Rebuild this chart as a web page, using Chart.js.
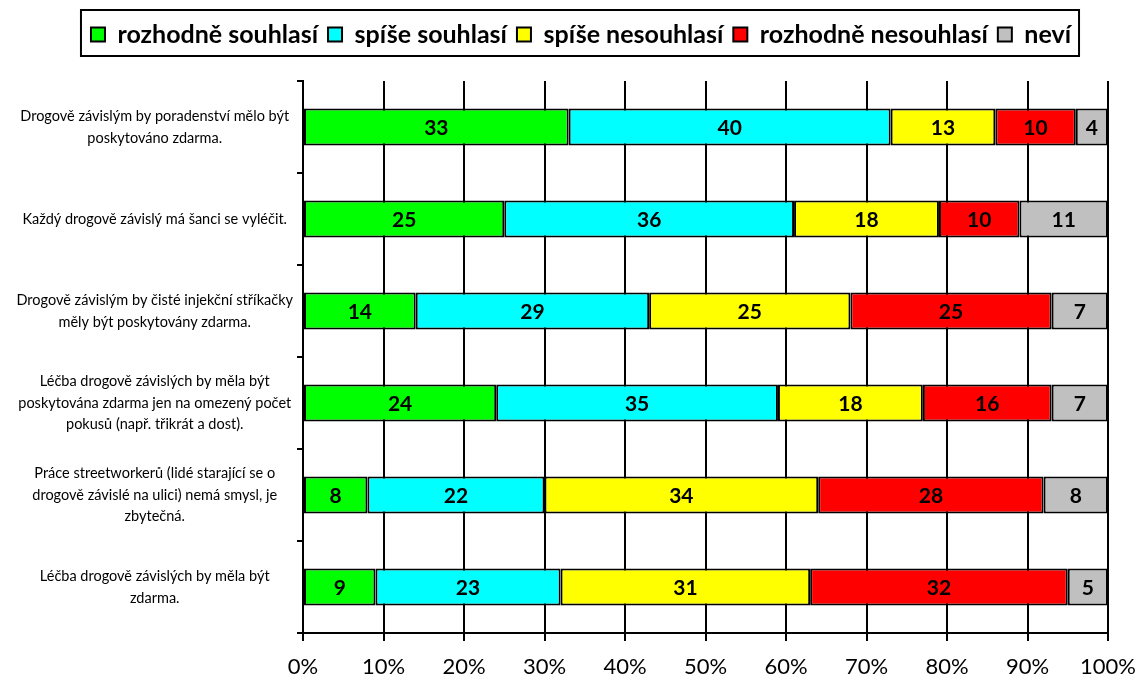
<!DOCTYPE html>
<html>
<head>
<meta charset="utf-8">
<script src="https://cdn.jsdelivr.net/npm/chart.js@4"></script>
<style>
  html, body { margin: 0; padding: 0; background: #fff; }
  #wrap { width: 1138px; height: 682px; }
</style>
</head>
<body>
<div id="wrap"><canvas id="chart" width="1138" height="682"></canvas></div>
<script>
// categories (multi-line as in the original)
const categories = [
    ["Drogově závislým by poradenství mělo být", "poskytováno zdarma."],
    ["Každý drogově závislý má šanci se vyléčit."],
    ["Drogově závislým by čisté injekční stříkačky", "měly být poskytovány zdarma."],
    ["Léčba drogově závislých by měla být", "poskytována zdarma jen na omezený počet", "pokusů (např. třikrát a dost)."],
    ["Práce streetworkerů (lidé starající se o", "drogově závislé na ulici) nemá smysl, je", "zbytečná."],
    ["Léčba drogově závislých by měla být", "zdarma."]
];

const seriesNames = ["rozhodně souhlasí", "spíše souhlasí", "spíše nesouhlasí", "rozhodně nesouhlasí", "neví"];
const seriesColors = ["#00FF00", "#00FFFF", "#FFFF00", "#FF0000", "#C0C0C0"];

const rozhodneSouhlasi   = [33, 25, 14, 24, 8, 9];
const spiseSouhlasi      = [40, 36, 29, 35, 22, 23];
const spiseNesouhlasi    = [13, 18, 25, 18, 34, 31];
const rozhodneNesouhlasi = [10, 10, 25, 16, 28, 32];
const nevi               = [4, 11, 7, 7, 8, 5];

const seriesValues = [rozhodneSouhlasi, spiseSouhlasi, spiseNesouhlasi, rozhodneNesouhlasi, nevi];

const FONT = "Lato, 'Liberation Sans', sans-serif";

// value labels in the middle of each segment
const barLabels = {
    id: "barLabels",
    afterDatasetsDraw(chart) {
        const ctx = chart.ctx;
        ctx.save();
        ctx.font = "bold 21px " + FONT;
        ctx.fillStyle = "#000";
        ctx.textAlign = "center";
        ctx.textBaseline = "middle";
        chart.data.datasets.forEach((ds, i) => {
            const meta = chart.getDatasetMeta(i);
            meta.data.forEach((bar, j) => {
                const cx = (bar.x + bar.base) / 2;
                ctx.fillText(String(ds.data[j]), cx, bar.y + 1);
            });
        });
        ctx.restore();
    }
};

// frame around the legend, plus extra room under it
const legendFrame = {
    id: "legendFrame",
    beforeInit(chart) {
        const origFit = chart.legend.fit;
        chart.legend.fit = function () {
            origFit.bind(chart.legend)();
            this.height += 24;
        };
    },
    afterLayout(chart) {
        // legend sits a bit right of the canvas centre
        chart.legend.left += 12;
        chart.legend.right += 12;
    },
    afterDraw(chart) {
        const boxes = chart.legend.legendHitBoxes;
        if (!boxes || !boxes.length) return;
        const left = boxes[0].left - 10;
        const last = boxes[boxes.length - 1];
        const right = last.left + last.width + 8;
        const top = boxes[0].top - 12;
        const bottom = boxes[0].top + boxes[0].height + 9;
        const ctx = chart.ctx;
        ctx.save();
        ctx.strokeStyle = "#000";
        ctx.lineWidth = 2;
        ctx.strokeRect(left, top, right - left, bottom - top);
        ctx.restore();
    }
};

const datasets = seriesNames.map((name, i) => ({
    label: name,
    data: seriesValues[i],
    backgroundColor: seriesColors[i],
    borderColor: "#000",
    borderWidth: 2,
    borderSkipped: false,
    categoryPercentage: 1.0,
    barPercentage: 0.4
}));

new Chart(document.getElementById("chart"), {
    type: "bar",
    data: { labels: categories, datasets: datasets },
    plugins: [barLabels, legendFrame],
    options: {
        indexAxis: "y",
        responsive: false,
        animation: false,
        layout: { padding: { top: 12, right: 0, bottom: 4, left: 0 } },
        scales: {
            x: {
                stacked: true,
                min: 0,
                max: 100,
                ticks: {
                    stepSize: 10,
                    color: "#000",
                    padding: 15,
                    font: { family: FONT, size: 22, lineHeight: 1 },
                    callback: (v) => v + "%"
                },
                grid: {
                    display: true,
                    drawOnChartArea: true,
                    color: "#000",
                    lineWidth: 2,
                    tickLength: 8,
                    tickColor: "#000"
                },
                border: { color: "#000", width: 2 },
                afterFit(scale) {
                    scale.height = 45;
                    scale.paddingLeft = 0;
                    scale.paddingRight = 30;
                }
            },
            y: {
                stacked: true,
                ticks: {
                    color: "#000",
                    crossAlign: "center",
                    padding: 4,
                    font: { family: FONT, size: 14.5, lineHeight: 1.5 }
                },
                grid: {
                    offset: true,
                    drawOnChartArea: false,
                    tickLength: 6,
                    tickColor: "#000",
                    lineWidth: 2
                },
                border: { color: "#000", width: 2 },
                afterFit(scale) {
                    scale.width = 303;
                    scale.paddingTop = 0;
                    scale.paddingBottom = 0;
                }
            }
        },
        plugins: {
            legend: {
                position: "top",
                labels: {
                    color: "#000",
                    boxWidth: 14,
                    boxHeight: 14,
                    padding: 10,
                    font: { family: FONT, size: 25, weight: "bold" }
                }
            },
            tooltip: { enabled: false }
        }
    }
});
</script>
</body>
</html>
